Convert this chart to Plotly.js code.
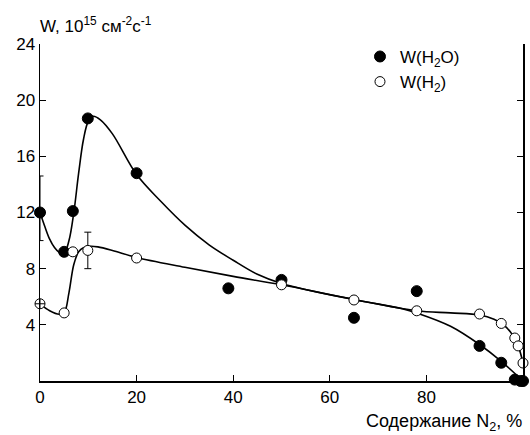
<!DOCTYPE html>
<html>
<head>
<meta charset="utf-8">
<script src="https://cdn.plot.ly/plotly-3.0.1.min.js"></script>
<style>html,body{margin:0;padding:0;background:#fff;}#chart{width:530px;height:435px;}</style>
</head>
<body>
<div id="chart"></div>
<script>
// Measured points: W(H2O)
const h2oX = [0, 5, 6.8, 9.9, 20, 39, 50, 65, 78, 91, 95.5, 98.3, 99.5, 100];
const h2oY = [12, 9.2, 12.1, 18.7, 14.8, 6.6, 7.2, 4.5, 6.4, 2.5, 1.3, 0.1, 0, 0];
const h2oErrPlus = [2.6, 0, 0, 0, 0, 0, 0, 0, 0, 0, 0, 0, 0, 0];
const h2oErrMinus = [2.0, 0, 0, 0, 0, 0, 0, 0, 0, 0, 0, 0, 0, 0];

// Measured points: W(H2)
const h2X = [0, 5, 6.8, 9.9, 20, 50, 65, 78, 91, 95.5, 98.3, 99, 100];
const h2Y = [5.5, 4.85, 9.2, 9.3, 8.76, 6.85, 5.77, 5.0, 4.77, 4.1, 3.06, 2.5, 1.28];
const h2Err = [0, 0, 0, 1.3, 0, 0, 0, 0, 0, 0, 0, 0, 0];

// Fitted curves
const fitH2oX = [0, 1, 2, 3, 4, 5, 6, 7, 8, 9, 10, 11, 12.5, 15, 20, 25, 30, 35, 40, 45, 50, 65, 75, 78, 85, 91, 95.5, 100];
const fitH2oY = [12, 11.0, 10.1, 9.5, 9.15, 9.1, 10.0, 12.0, 14.8, 17.2, 18.5, 18.85, 18.6, 17.6, 14.7, 12.8, 11.1, 9.7, 8.6, 7.6, 6.95, 5.8, 5.15, 4.85, 3.9, 2.6, 1.4, 0];
const fitH2X = [0, 2, 4, 5, 6, 7, 8, 9, 10.5, 12, 15, 20, 30, 40, 50, 65, 78, 85, 91, 94, 96, 98, 99, 100];
const fitH2Y = [5.5, 5.0, 4.75, 4.85, 6.3, 8.3, 9.2, 9.5, 9.6, 9.55, 9.3, 8.8, 8.1, 7.45, 6.85, 5.8, 5.0, 4.85, 4.7, 4.4, 4.0, 3.2, 2.5, 1.3];

const xTicks = [0, 20, 40, 60, 80, 100];
const yTicks = [4, 8, 12, 16, 20, 24];

const FONT = 'Liberation Sans, Arial, sans-serif';
const FS = 17;

const traces = [
  {x: fitH2oX, y: fitH2oY, mode: 'lines', line: {color: '#000', width: 1.6, shape: 'spline', smoothing: 1}, showlegend: false, hoverinfo: 'skip'},
  {x: fitH2X, y: fitH2Y, mode: 'lines', line: {color: '#000', width: 1.6, shape: 'spline', smoothing: 1}, showlegend: false, hoverinfo: 'skip'},
  {x: h2oX, y: h2oY, mode: 'markers', name: 'W(H<sub>2</sub>O)',
   marker: {symbol: 'circle', size: 11, color: '#000', line: {color: '#000', width: 1}},
   error_y: {type: 'data', symmetric: false, array: h2oErrPlus, arrayminus: h2oErrMinus, color: '#000', thickness: 1, width: 3.5},
   cliponaxis: false},
  {x: h2X.slice(1), y: h2Y.slice(1), mode: 'markers', name: 'W(H<sub>2</sub>)',
   marker: {symbol: 'circle', size: 10, color: '#fff', line: {color: '#000', width: 1}},
   error_y: {type: 'data', array: h2Err.slice(1), color: '#000', thickness: 1, width: 3.5},
   cliponaxis: false},
  {x: h2X.slice(0, 1), y: h2Y.slice(0, 1), mode: 'markers', showlegend: false,
   marker: {symbol: 'circle-cross', size: 10, color: '#fff', line: {color: '#000', width: 1}},
   cliponaxis: false}
];

const layout = {
  width: 530, height: 435,
  margin: {l: 40, r: 7, t: 44, b: 54},
  paper_bgcolor: '#fff', plot_bgcolor: '#fff',
  font: {family: FONT, size: FS, color: '#000'},
  showlegend: true,
  legend: {x: 0.6625, y: 1.015, xanchor: 'left', yanchor: 'top', bgcolor: 'rgba(0,0,0,0)', font: {family: FONT, size: FS, color: '#000'}},
  xaxis: {range: [0, 100], tickvals: xTicks, ticktext: xTicks.map(String), ticks: 'inside', ticklen: 6, tickcolor: '#000',
          showline: true, linecolor: '#000', linewidth: 1.5, mirror: false, showgrid: false, zeroline: false,
          tickfont: {family: FONT, size: FS, color: '#000'}},
  yaxis: {range: [0, 24], tickvals: yTicks, ticktext: yTicks.map(String), ticks: 'inside', ticklen: 6, tickcolor: '#000',
          showline: true, linecolor: '#000', linewidth: 1.5, mirror: 'ticks', showgrid: false, zeroline: false,
          tickfont: {family: FONT, size: FS, color: '#000'}},
  annotations: [
    {xref: 'paper', yref: 'paper', x: 0, y: 1, xanchor: 'left', yanchor: 'bottom', yshift: 6, xshift: -2, showarrow: false,
     text: 'W, 10<sup>15</sup> см<sup>-2</sup>с<sup>-1</sup>', font: {family: FONT, size: FS, color: '#000'}},
    {xref: 'paper', yref: 'paper', x: 1, y: 0, xanchor: 'right', yanchor: 'top', yshift: -28, xshift: 1, showarrow: false,
     text: 'Содержание N<sub>2</sub>, %', font: {family: FONT, size: 18, color: '#000'}}
  ]
};

Plotly.newPlot('chart', traces, layout, {displayModeBar: false, staticPlot: true});
</script>
</body>
</html>
